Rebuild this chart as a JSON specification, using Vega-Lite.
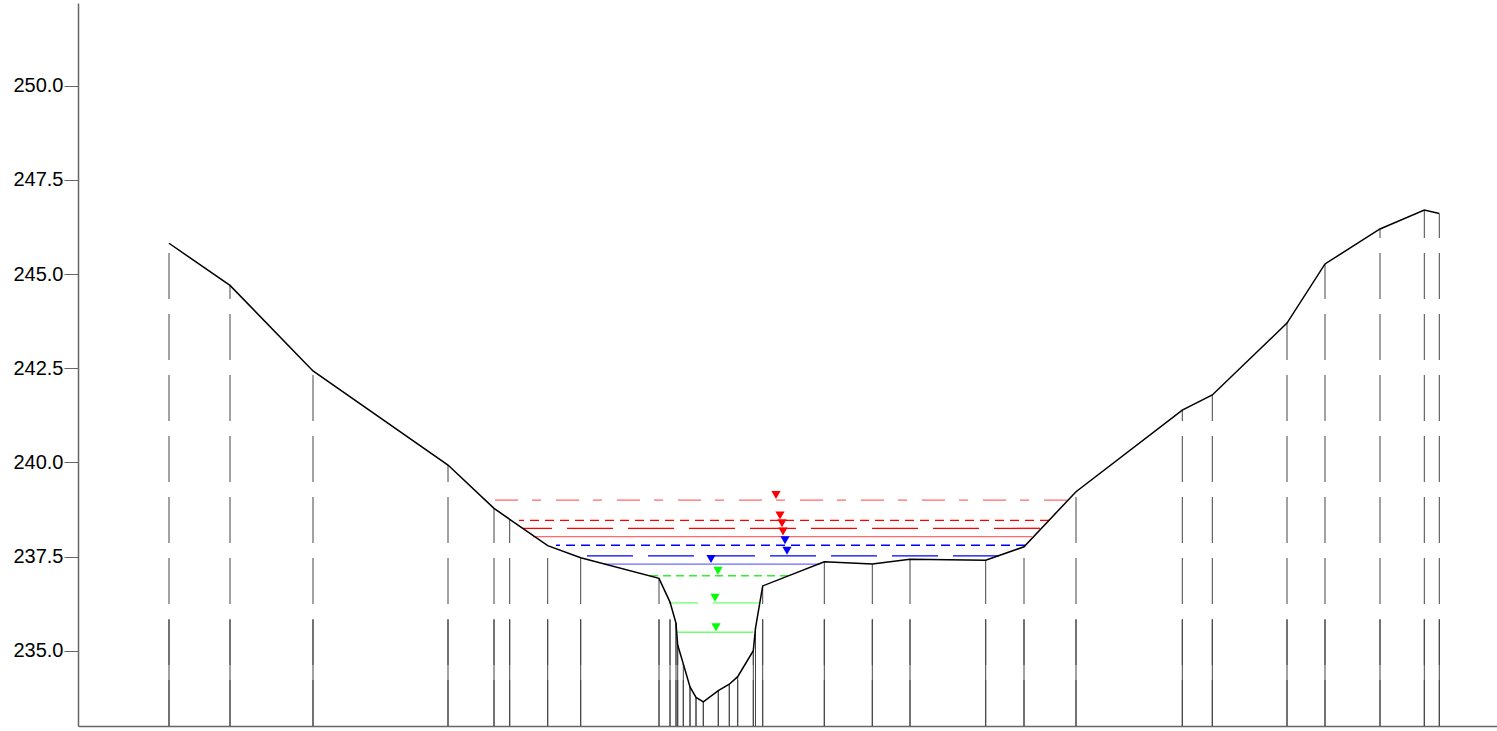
{
  "$schema": "https://vega.github.io/schema/vega-lite/v6.json",
  "width": 1419,
  "height": 723,
  "autosize": "none",
  "padding": {"left": 78, "top": 3, "right": 0, "bottom": 5},
  "background": "white",
  "config": {"view": {"stroke": null}, "font": "Liberation Sans"},
  "datasets": {
    "ground": [
      {"s": 9.1, "e": 245.82}, {"s": 15.2, "e": 244.7}, {"s": 23.5, "e": 242.43}, {"s": 37.0, "e": 239.93},
      {"s": 41.6, "e": 238.78}, {"s": 43.17, "e": 238.49}, {"s": 46.97, "e": 237.79}, {"s": 50.27, "e": 237.47},
      {"s": 58.1, "e": 236.92}, {"s": 59.2, "e": 236.29}, {"s": 59.8, "e": 235.73}, {"s": 59.97, "e": 235.15},
      {"s": 60.53, "e": 234.65}, {"s": 61.2, "e": 234.04}, {"s": 61.8, "e": 233.76}, {"s": 62.53, "e": 233.64},
      {"s": 64.03, "e": 233.94}, {"s": 65.13, "e": 234.11}, {"s": 65.97, "e": 234.31}, {"s": 67.53, "e": 235.0},
      {"s": 67.75, "e": 235.6}, {"s": 68.47, "e": 236.72}, {"s": 74.63, "e": 237.36}, {"s": 79.43, "e": 237.3},
      {"s": 83.2, "e": 237.43}, {"s": 90.77, "e": 237.4}, {"s": 94.6, "e": 237.76}, {"s": 99.8, "e": 239.22},
      {"s": 110.43, "e": 241.39}, {"s": 113.43, "e": 241.79}, {"s": 120.9, "e": 243.7}, {"s": 124.7, "e": 245.27},
      {"s": 130.2, "e": 246.2}, {"s": 134.63, "e": 246.7}, {"s": 136.13, "e": 246.61}
    ],
    "levels": [
      {"level": "W01", "s": 41.47, "e": 239.0}, {"level": "W01", "s": 98.9, "e": 239.0},
      {"level": "W02", "s": 44.1, "e": 238.46}, {"level": "W02", "s": 97.1, "e": 238.46},
      {"level": "W03", "s": 44.5, "e": 238.25}, {"level": "W03", "s": 96.2, "e": 238.25},
      {"level": "W04", "s": 45.5, "e": 238.03}, {"level": "W04", "s": 95.4, "e": 238.03},
      {"level": "W05", "s": 47.8, "e": 237.8}, {"level": "W05", "s": 94.7, "e": 237.8},
      {"level": "W06", "s": 49.7, "e": 237.52}, {"level": "W06", "s": 92.1, "e": 237.52},
      {"level": "W07", "s": 52.6, "e": 237.3}, {"level": "W07", "s": 74.2, "e": 237.3},
      {"level": "W08", "s": 57.2, "e": 236.99}, {"level": "W08", "s": 71.0, "e": 236.99},
      {"level": "W09", "s": 59.27, "e": 236.27}, {"level": "W09", "s": 68.1, "e": 236.27},
      {"level": "W10", "s": 59.97, "e": 235.49}, {"level": "W10", "s": 67.53, "e": 235.49}
    ],
    "marks": [
      {"level": "W01", "s": 69.8, "e": 239.0}, {"level": "W02", "s": 70.2, "e": 238.46},
      {"level": "W03", "s": 70.4, "e": 238.25}, {"level": "W04", "s": 70.5, "e": 238.03},
      {"level": "W05", "s": 70.7, "e": 237.8}, {"level": "W06", "s": 70.9, "e": 237.52},
      {"level": "W07", "s": 63.3, "e": 237.3}, {"level": "W08", "s": 64.0, "e": 236.99},
      {"level": "W09", "s": 63.7, "e": 236.27}, {"level": "W10", "s": 63.8, "e": 235.49}
    ]
  },
  "layer": [
    {
      "data": {"name": "ground"},
      "transform": [
        {"calculate": "233", "as": "bottom"},
        {"fold": ["bottom", "e"], "as": ["end", "z"]}
      ],
      "mark": {"type": "line", "color": "#444444", "strokeWidth": 1, "strokeDash": [46, 15]},
      "encoding": {
        "x": {"field": "s", "type": "quantitative", "scale": {"domain": [0, 141.9], "nice": false, "zero": false},
              "axis": {"title": null, "labels": false, "ticks": false, "grid": false, "domainColor": "#666666", "domainWidth": 1.5}},
        "y": {"field": "z", "type": "quantitative", "scale": {"domain": [233, 252.2], "nice": false, "zero": false},
              "axis": {"title": null, "values": [235, 237.5, 240, 242.5, 245, 247.5, 250], "format": ".1f", "grid": false,
                       "labelFontSize": 20, "labelColor": "#000000", "labelFont": "Liberation Sans", "labelPadding": 1,
                       "tickSize": 14, "tickColor": "#666666", "domainColor": "#666666", "domainWidth": 1.5}},
        "detail": {"field": "s", "type": "nominal"},
        "order": {"field": "z", "type": "quantitative", "sort": "ascending"}
      }
    },
    {
      "data": {"name": "ground"},
      "transform": [{"calculate": "min(datum.e, 235.82)", "as": "top"}],
      "mark": {"type": "rule", "color": "#444444", "strokeWidth": 1},
      "encoding": {
        "x": {"field": "s", "type": "quantitative"},
        "y": {"field": "top", "type": "quantitative"},
        "y2": {"datum": 233}
      }
    },
    {
      "data": {"name": "levels"},
      "mark": {"type": "line", "strokeWidth": 1.3},
      "encoding": {
        "x": {"field": "s", "type": "quantitative"},
        "y": {"field": "e", "type": "quantitative"},
        "detail": {"field": "level", "type": "nominal"},
        "order": {"field": "s", "type": "quantitative", "sort": "descending"},
        "stroke": {"field": "level", "type": "nominal", "legend": null,
                  "scale": {"domain": ["W01","W02","W03","W04","W05","W06","W07","W08","W09","W10"],
                            "range": ["#ff6a6a","#ff0000","#ff0000","#ff6a6a","#0000ff","#0000ff","#6a6aff","#30f030","#70ff70","#70ff70"]}},
        "strokeDash": {"field": "level", "type": "nominal", "legend": null,
                       "scale": {"domain": ["W01","W02","W03","W04","W05","W06","W07","W08","W09","W10"],
                                 "range": [[23,15,9,14],[9,6],[46,15],[1,0],[9,6],[46,15],[1,0],[8,5],[46,15],[1,0]]}}
      }
    },
    {
      "data": {"name": "marks"},
      "mark": {"type": "point", "shape": "triangle-down", "filled": true, "size": 85, "yOffset": -5, "opacity": 1, "strokeWidth": 0},
      "encoding": {
        "x": {"field": "s", "type": "quantitative"},
        "y": {"field": "e", "type": "quantitative"},
        "fill": {"field": "level", "type": "nominal", "legend": null,
                  "scale": {"domain": ["W01","W02","W03","W04","W05","W06","W07","W08","W09","W10"],
                            "range": ["#ff0000","#ff0000","#ff0000","#ff0000","#0000ff","#0000ff","#0000ff","#00ff00","#00ff00","#00ff00"]}}
      }
    },
    {
      "data": {"name": "ground"},
      "mark": {"type": "line", "color": "#000000", "strokeWidth": 1.5},
      "encoding": {
        "x": {"field": "s", "type": "quantitative"},
        "y": {"field": "e", "type": "quantitative"},
        "order": {"field": "s", "type": "quantitative"}
      }
    }
  ]
}
